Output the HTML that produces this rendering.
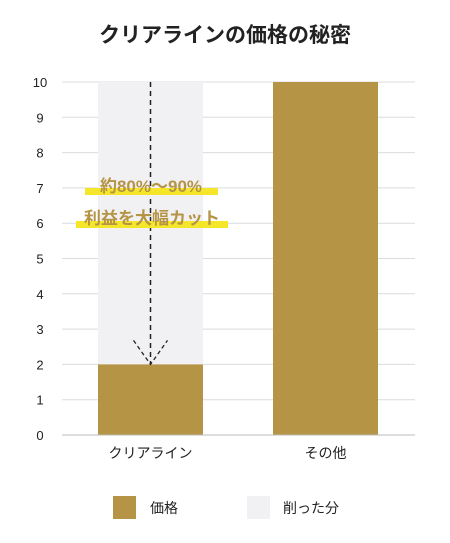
<!DOCTYPE html>
<html><head><meta charset="utf-8"><style>
body{margin:0;background:#fff;width:450px;height:538px;overflow:hidden;font-family:"Liberation Sans","Noto Sans CJK JP",sans-serif}
text{font-family:"Liberation Sans","Noto Sans CJK JP",sans-serif}
</style></head><body>
<svg id="c" width="450" height="538">
<text x="225" y="42" text-anchor="middle" font-size="21" font-weight="bold" fill="#222">クリアラインの価格の秘密</text>
</svg>
<script>
const categories=["クリアライン","その他"];
const priceValues=[2,10];
const cutValues=[10,0];
const yTicks=[0,1,2,3,4,5,6,7,8,9,10];
const NS="http://www.w3.org/2000/svg";
const svg=document.getElementById('c');
const y0=435,y1=82,xL=62,xR=415;
const y=v=>y0-(v/10)*(y0-y1);
const bx=i=>98+i*175;const bw=105;
function el(t,a,p){const e=document.createElementNS(NS,t);for(const k in a)e.setAttribute(k,a[k]);(p||svg).appendChild(e);return e;}
yTicks.forEach(t=>{
 const g=el('line',{x1:xL,x2:xR,y1:y(t),y2:y(t),stroke:'#dcdcdc','stroke-width':1});
 
 
 const l=el('text',{x:40,y:y(t)+5,'text-anchor':'middle','font-size':13,fill:'#222'});l.textContent=t;
 
 
});
categories.forEach((c,i)=>{
 if(cutValues[i]>0){const r=el('rect',{x:bx(i),y:y(cutValues[i]),width:bw,height:y(0)-y(cutValues[i]),fill:'#f1f1f3'});
 
 }
 const b=el('rect',{x:bx(i),y:y(priceValues[i]),width:bw,height:y(0)-y(priceValues[i]),fill:'#b59446'});
 
 
 const t=el('text',{x:bx(i)+bw/2,y:458,'text-anchor':'middle','font-size':14,fill:'#222'});t.textContent=c;
 
 
});
const ax=el('line',{x1:xL,x2:xR,y1:y0,y2:y0,stroke:'#bbb'});


const cx=bx(0)+bw/2;
const a=el('line',{x1:cx,x2:cx,y1:y(10),y2:y(priceValues[0]),stroke:'#222','stroke-width':1.5,'stroke-dasharray':'5,4'});


const ah=el('path',{d:`M${cx-17} ${y(2)-24} L${cx} ${y(2)} L${cx+17} ${y(2)-24}`,fill:'none',stroke:'#222','stroke-width':1.3,'stroke-dasharray':'4,3'});


const hl1=el('rect',{x:85,y:188,width:133,height:7,fill:'#f5e62a'});


const hl2=el('rect',{x:76,y:221,width:152,height:7,fill:'#f5e62a'});


const t1=el('text',{x:151,y:192,'text-anchor':'middle','font-size':17,'font-weight':'bold',fill:'#b59446'});t1.textContent='約80%～90%';


const t2=el('text',{x:152,y:224,'text-anchor':'middle','font-size':17,'font-weight':'bold',fill:'#b59446'});t2.textContent='利益を大幅カット';


const s1=el('rect',{x:113,y:496,width:23,height:23,fill:'#b59446'});


const l1=el('text',{x:150,y:513,'font-size':14,fill:'#222'});l1.textContent='価格';


const s2=el('rect',{x:247,y:496,width:23,height:23,fill:'#f1f1f3'});


const l2=el('text',{x:283,y:513,'font-size':14,fill:'#222'});l2.textContent='削った分';


</script>
</body></html>
